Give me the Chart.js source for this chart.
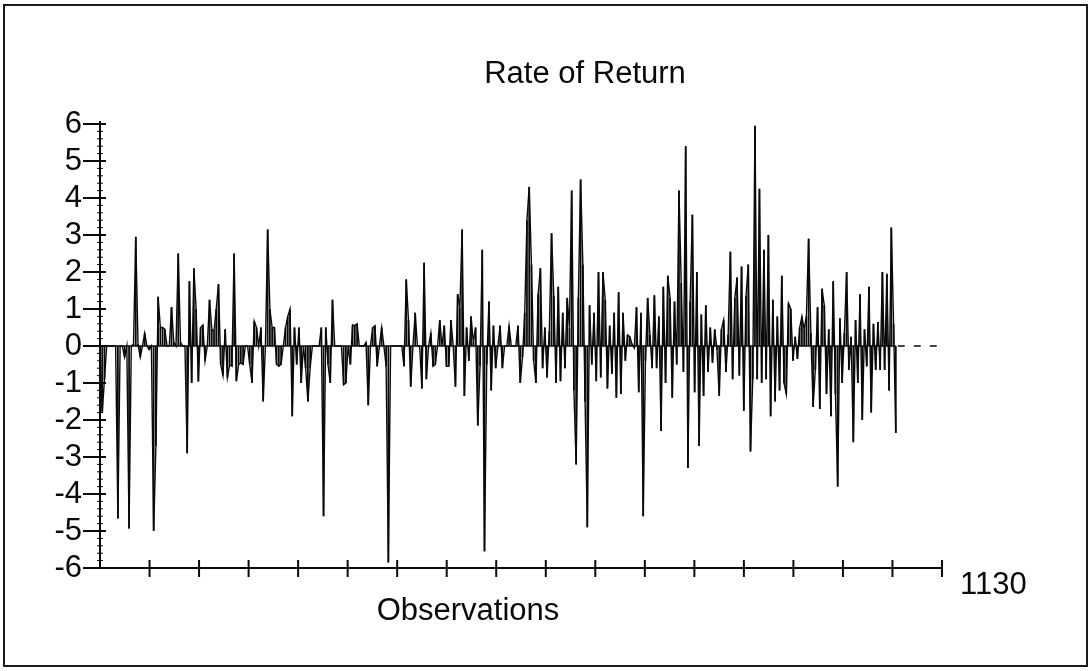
<!DOCTYPE html>
<html><head><meta charset="utf-8">
<script src="https://cdn.jsdelivr.net/npm/chart.js@4.4.1/dist/chart.umd.min.js"></script>
<style>
html,body{margin:0;padding:0;background:#fff;}
#wrap{position:relative;width:1092px;height:671px;overflow:hidden;}
#frame{position:absolute;left:3px;top:4px;width:1081px;height:659px;border:2px solid #1a1a1a;}
canvas{position:absolute;left:0;top:0;}
</style></head><body>
<div id="wrap"><div id="frame"></div><canvas id="c" width="1092" height="671"></canvas></div>
<script>
// ---- data ----
const chartTitle = 'Rate of Return';
const xAxisTitle = 'Observations';
const totalObservations = 1130;
const obsStep = 3;               // observations between consecutive samples
const yTickValues = [-6,-5,-4,-3,-2,-1,0,1,2,3,4,5,6];
const returns = [
 0, -1.8, -0.9, 0, 0, 0, 0, 0, -4.66, 0,
 0, -0.3, 0, -4.93, 0, 0.05, 2.95, 0.05, -0.3, 0,
 0.35, 0, -0.1, 0, -5.0, -2.7, 1.33, 0.5, 0.5, 0.45,
 0, 0, 1.05, 0.1, 0, 2.5, 0.1, 0, 0, -2.9,
 1.75, -1.0, 2.1, 1.0, -0.96, 0.5, 0.57, -0.4, 0, 1.25,
 0.45, 0.4, 1.0, 1.67, -0.5, -0.8, 0.45, -0.85, -0.5, -0.55,
 2.5, -0.95, -0.5, -0.45, -0.5, 0, 0, -0.5, -1.0, 0.67,
 0.5, 0, 0.5, -1.5, 0, 3.15, 1.0, 0.5, 0.5, -0.5,
 -0.55, -0.5, 0, 0.5, 0.8, 1.0, -1.9, 0.5, -0.5, 0.5,
 -1.0, 0, -0.6, -1.5, -0.6, 0, 0, 0, 0, 0.5,
 -4.6, 0.5, -0.5, -1.0, 1.25, 0, 0, 0, 0, -1.05,
 -1.0, 0, -0.5, 0.57, 0.55, 0.6, 0, 0, 0, 0.1,
 -1.6, 0, 0.5, 0.55, -0.55, 0, 0.5, 0, -0.55, -5.85,
 0, 0, 0, 0, 0, 0, -0.55, 1.8, 0.7, -1.1,
 0, 0.9, 0, 0, -1.15, 2.25, -0.9, 0, 0.35, -0.55,
 -0.5, 0, 0.7, 0, 0.55, -0.55, -0.55, 0.7, 0, -1.1,
 1.4, 1.05, 3.15, -1.35, 0.5, -0.4, 0.8, 0.1, 0.5, -2.15,
 -0.55, 2.6, -5.55, -0.5, 1.2, -1.2, 0.55, -0.6, 0, 0.55,
 -0.6, 0, 0, 0.55, 0, 0, 0, 0.55, -1.0, -0.3,
 0.9, 3.4, 4.3, 2.2, -0.4, -1.0, 1.4, 2.1, -0.6, 0.5,
 -0.85, 0.4, 3.05, 1.35, -1.0, 1.6, -0.95, 0.9, -0.6, 1.3,
 0.5, 4.2, -1.2, -3.2, 1.3, 4.5, 2.2, -1.5, -4.9, 1.1,
 -0.5, 0.9, -0.95, 2.0, -0.85, 2.0, 1.25, -1.15, 0.55, -0.75,
 0.9, -1.4, 1.45, -1.3, 0.9, -0.4, 0.3, 0.25, 0.05, -0.05,
 1.05, -1.25, 0.9, -4.6, -0.4, 1.3, 0.3, -0.6, 1.37, -0.6,
 0.8, -2.3, 1.6, -1.0, 1.9, 1.3, -1.4, 1.2, -0.5, 4.2,
 1.7, -0.7, 5.4, -3.3, 1.2, 3.55, -1.25, 2.0, -2.7, 0.85,
 -1.35, 1.1, -0.7, 0.5, -0.45, 0.45, -0.1, -1.35, 0.45, 0.7,
 -0.7, 0.3, 2.55, -0.9, 1.3, 1.85, -0.8, 2.15, -1.75, 1.35,
 2.2, -2.85, -0.9, 5.95, -0.9, 4.25, -1.0, 2.6, -0.9, 3.0,
 -1.9, 1.25, -1.5, 0.8, -1.2, 1.9, -1.0, -1.3, 1.15, 1.0,
 -0.4, 0.25, -0.35, 0.5, 0.8, 0.45, 0.8, 2.9, 0.35, -1.65,
 -0.65, 1.05, -1.7, 1.55, 1.1, -1.3, 0.45, -1.9, 1.75, -1.3,
 -3.8, 0.75, -1.0, 0.35, 2.0, -0.65, 0.25, -2.6, 0.7, -1.0,
 1.4, -2.0, 0.45, -0.55, 1.6, -1.8, 0.6, -0.65, 0.65, -0.65,
 2.0, -0.65, 1.95, -1.2, 3.2, 0.6, -2.35
];
// ---- end data ----

const FONT = '"Liberation Sans", Arial, sans-serif';
const INK = '#0a0a0a';
const observations = returns.map((_, i) => i * obsStep);
const lastObs = observations[observations.length - 1];
const xTickCount = 17;
const points = returns.map((v, i) => ({x: observations[i], y: v}));

const decorPlugin = {
  id: 'decor',
  beforeDatasetsDraw(chart) {
    const {ctx, scales: {x, y}} = chart;
    const y0 = y.getPixelForValue(0);
    ctx.save();
    ctx.strokeStyle = INK;
    ctx.lineWidth = 1.6;
    ctx.beginPath();
    ctx.moveTo(x.getPixelForValue(0), y0);
    ctx.lineTo(x.getPixelForValue(lastObs), y0);
    ctx.stroke();
    ctx.setLineDash([7, 9]);
    ctx.beginPath();
    ctx.moveTo(x.getPixelForValue(lastObs) + 2, y0);
    ctx.lineTo(x.getPixelForValue(totalObservations), y0);
    ctx.stroke();
    ctx.restore();
  },
  afterDraw(chart) {
    const {ctx, chartArea: a, scales: {x, y}} = chart;
    ctx.save();
    ctx.strokeStyle = INK;
    ctx.fillStyle = INK;
    const seg = (x1, y1, x2, y2) => { ctx.beginPath(); ctx.moveTo(x1, y1); ctx.lineTo(x2, y2); ctx.stroke(); };
    // y axis
    ctx.lineWidth = 2;
    seg(a.left, y.getPixelForValue(6) - 3, a.left, y.getPixelForValue(-6) + 1);
    yTickValues.forEach(v => { const p = y.getPixelForValue(v); seg(a.left - 17, p, a.left + 6, p); });
    ctx.lineWidth = 1;
    for (let k = 0; k < (yTickValues.length - 1) * 5; k++) {
      if (k % 5 === 0) continue;
      const p = y.getPixelForValue(yTickValues[0] + k / 5);
      seg(a.left - 3, p, a.left + 3, p);
    }
    // x axis
    ctx.lineWidth = 2;
    const yb = y.getPixelForValue(-6);
    seg(a.left, yb, x.getPixelForValue(totalObservations), yb);
    for (let k = 1; k <= xTickCount; k++) {
      const p = x.getPixelForValue(totalObservations * k / xTickCount);
      seg(p, yb - 8, p, yb + 9);
    }
    // texts
    ctx.font = '31px ' + FONT;
    ctx.textBaseline = 'alphabetic';
    ctx.textAlign = 'center';
    ctx.fillText(chartTitle, 585, 83);
    ctx.fillText(xAxisTitle, 468, 620);
    ctx.textAlign = 'left';
    ctx.fillText(String(totalObservations), x.getPixelForValue(totalObservations) + 18, 594);
    ctx.restore();
  }
};

new Chart(document.getElementById('c'), {
  type: 'bar',
  data: {
    datasets: [{
      type: 'line',
      data: points,
      borderColor: INK,
      borderWidth: 1.4,
      pointRadius: 0,
      tension: 0,
      fill: false
    }, {
      data: points,
      backgroundColor: INK,
      borderWidth: 0,
      barPercentage: 0.8,
      categoryPercentage: 1.0
    }]
  },
  options: {
    responsive: false,
    animation: false,
    devicePixelRatio: 1,
    layout: {padding: {left: 0, top: 124, right: 150, bottom: 103}},
    plugins: {legend: {display: false}, tooltip: {enabled: false}, title: {display: false}},
    scales: {
      x: {type: 'linear', display: false, min: 0, max: totalObservations, offset: false},
      y: {
        type: 'linear', min: -6, max: 6,
        afterFit(s) { s.width = 100; },
        grid: {display: false, drawTicks: false},
        border: {display: false},
        ticks: {stepSize: 1, autoSkip: false, padding: 18, color: INK, font: {family: FONT, size: 31}}
      }
    }
  },
  plugins: [decorPlugin]
});
</script>
</body></html>
